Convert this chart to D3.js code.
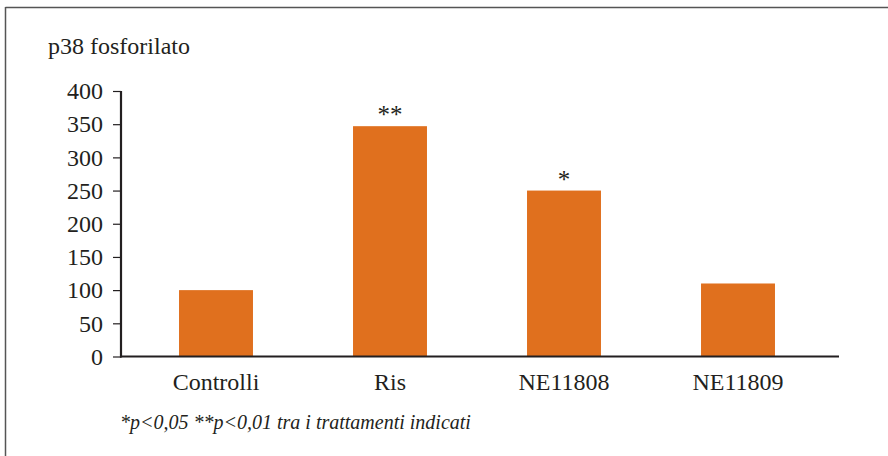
<!DOCTYPE html>
<html>
<head>
<meta charset="utf-8">
<script src="https://cdn.jsdelivr.net/npm/d3@7"></script>
<style>
  html, body { margin: 0; padding: 0; background: #fff; }
  svg { display: block; }
  svg text { font-family: "Liberation Serif", "Times New Roman", serif !important; fill: #231f20; }
</style>
</head>
<body>
<svg id="chart" width="888" height="456"></svg>
<script>
// Phosphorylated p38 levels per treatment
const categories = ["Controlli", "Ris", "NE11808", "NE11809"];
const values = [100, 347, 250, 110];
const significance = ["", "**", "*", ""];
const yTicks = [0, 50, 100, 150, 200, 250, 300, 350, 400];
const yTitle = "p38 fosforilato";
const footnote = "*p<0,05 **p<0,01 tra i trattamenti indicati";

const svg = d3.select("#chart");
const ink = "#231f20";
const barColor = "#e0701e";
const serif = "Liberation Serif, Times New Roman, serif";

// Panel frame: top and left rules only
svg.append("line").attr("x1", 5.5).attr("x2", 888).attr("y1", 7.5).attr("y2", 7.5)
  .attr("stroke", "#555").attr("stroke-width", 1.5);
svg.append("line").attr("x1", 5.5).attr("x2", 5.5).attr("y1", 7).attr("y2", 456)
  .attr("stroke", "#555").attr("stroke-width", 1.5);

const axisX = 121;
const x = d3.scaleBand().domain(categories).range([129, 825]).paddingInner(0.575).paddingOuter(0.2875);
const y = d3.scaleLinear().domain([0, 400]).range([356.5, 91]);

// Bars
svg.append("g").selectAll("rect").data(categories).join("rect")
  .attr("x", d => x(d))
  .attr("width", x.bandwidth())
  .attr("y", (d, i) => y(values[i]))
  .attr("height", (d, i) => y(0) - y(values[i]))
  .attr("fill", barColor);

// Significance marks above bars
svg.append("g").selectAll("text").data(categories).join("text")
  .attr("x", d => x(d) + x.bandwidth() / 2)
  .attr("y", (d, i) => y(values[i]) - 3)
  .attr("text-anchor", "middle")
  .attr("font-family", serif)
  .attr("font-size", 25)
  .text((d, i) => significance[i]);

// Y axis
const yAxis = svg.append("g").attr("transform", `translate(${axisX},0)`)
  .call(d3.axisLeft(y).tickValues(yTicks).tickSize(8).tickPadding(10).tickFormat(d3.format("d")));
yAxis.attr("font-family", serif);
yAxis.select(".domain").remove();
yAxis.selectAll(".tick line").attr("stroke", ink).attr("stroke-width", 1.2);
yAxis.selectAll(".tick text").attr("font-size", 24).attr("fill", ink);
svg.append("line").attr("x1", axisX).attr("x2", axisX).attr("y1", y(400)).attr("y2", y(0) + 1)
  .attr("stroke", ink).attr("stroke-width", 2.2);

// X axis baseline
svg.append("line").attr("x1", axisX - 1).attr("x2", 839).attr("y1", y(0)).attr("y2", y(0))
  .attr("stroke", ink).attr("stroke-width", 2.2);

// Category labels
svg.append("g").selectAll("text").data(categories).join("text")
  .attr("x", d => x(d) + x.bandwidth() / 2)
  .attr("y", 390)
  .attr("text-anchor", "middle")
  .attr("font-family", serif)
  .attr("font-size", 24)
  .text(d => d);

// Axis title
svg.append("text").attr("x", 48).attr("y", 54).attr("font-family", serif)
  .attr("font-size", 24).text(yTitle);

// Footnote
svg.append("text").attr("x", 120).attr("y", 429).attr("font-family", serif)
  .attr("font-size", 20).attr("font-style", "italic").text(footnote);
</script>
</body>
</html>
